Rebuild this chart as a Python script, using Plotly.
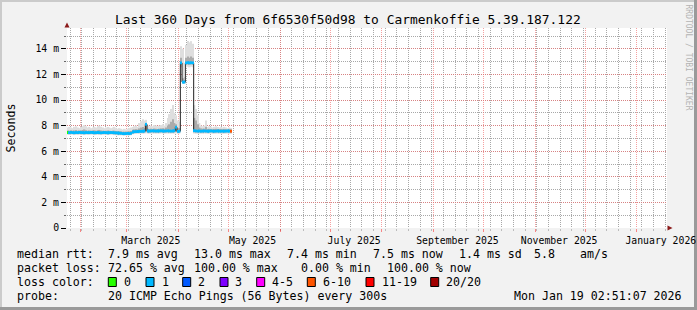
import plotly.graph_objects as go
import pandas as pd

# ---------------- data ----------------
RANGE_START = "2025-01-24 02:51:07"
RANGE_END = "2026-01-19 02:51:07"
SAMPLE_START = "2025-01-24 03:00"

median_ms = ([7.46, 7.45, 7.47, 7.45, 7.44, 7.46, 7.45, 7.47, 7.46, 7.45,
              7.44, 7.46, 7.45, 7.45, 7.47, 7.46, 7.44, 7.45, 7.46, 7.45,
              7.44, 7.45, 7.46, 7.45, 7.44, 7.45, 7.46, 7.45, 7.44, 7.43,
              7.42, 7.41, 7.40]
             + [7.38, 7.37, 7.38, 7.39, 7.38, 7.40]
             + [7.50, 7.52, 7.53, 7.54, 7.55, 7.55, 7.56]
             + [7.57] + [8.10]
             + [7.58, 7.57, 7.58, 7.59, 7.58, 7.57, 7.58, 7.58, 7.59, 7.58,
                7.57, 7.58, 7.59, 7.58, 7.57, 7.58, 7.60]
             + [7.87] + [7.55] + [7.56] + [12.9] + [11.4] + [11.4]
             + [12.9, 12.92, 12.9, 12.91, 12.9]
             + [7.60, 7.58, 7.57, 7.58, 7.56, 7.57, 7.58, 7.57, 7.56, 7.57,
                7.58, 7.57, 7.56, 7.57, 7.58, 7.57, 7.56, 7.57, 7.56, 7.57,
                7.58, 7.57, 7.56])

smoke_hi = ([7.85, 7.9, 7.85, 7.8, 7.9, 7.95, 7.85, 7.8, 7.9, 7.95,
             8.05, 7.95, 7.85, 7.9, 7.8, 7.85, 7.9, 7.85, 7.95, 8.0,
             7.9, 7.85, 7.8, 7.85, 7.9, 7.85, 7.8, 7.85, 7.9, 7.8,
             7.75, 7.8, 7.75]
            + [7.7, 7.75, 7.7, 7.75, 7.8, 7.85]
            + [7.9, 7.95, 8.0, 7.9, 8.2, 8.35, 8.5]
            + [8.4] + [8.45]
            + [8.0, 7.95, 8.0, 7.95, 8.05, 8.0, 7.95, 8.0, 8.05, 8.1,
               8.0, 8.2, 8.6, 8.9, 9.3, 9.6, 9.0]
            + [8.8] + [8.4] + [8.3] + [14.2] + [14.0] + [11.8]
            + [14.3, 14.6, 14.5, 14.6, 14.4]
            + [9.6, 9.3, 8.8, 8.2, 8.0, 7.95, 8.0, 8.4, 7.9, 7.95,
               7.9, 7.85, 7.9, 7.95, 7.9, 7.85, 7.9, 7.85, 7.9, 7.85,
               7.8, 7.85, 7.8])

smoke_lo = ([7.28, 7.27, 7.29, 7.28, 7.26, 7.28, 7.27, 7.29, 7.28, 7.27,
             7.26, 7.28, 7.27, 7.28, 7.29, 7.28, 7.26, 7.27, 7.28, 7.27,
             7.26, 7.27, 7.28, 7.27, 7.26, 7.27, 7.28, 7.27, 7.26, 7.25,
             7.25, 7.24, 7.24]
            + [7.22, 7.22, 7.23, 7.23, 7.22, 7.25]
            + [7.32, 7.34, 7.35, 7.36, 7.36, 7.37, 7.37]
            + [7.38] + [7.40]
            + [7.38, 7.37, 7.38, 7.39, 7.38, 7.37, 7.38, 7.38, 7.39, 7.38,
               7.37, 7.38, 7.39, 7.38, 7.37, 7.38, 7.38]
            + [7.40] + [7.36] + [7.37] + [12.55] + [11.25] + [11.25]
            + [12.55, 12.6, 12.55, 12.6, 12.55]
            + [7.38, 7.37, 7.36, 7.37, 7.36, 7.37, 7.38, 7.37, 7.36, 7.37,
               7.38, 7.37, 7.36, 7.37, 7.38, 7.37, 7.36, 7.37, 7.36, 7.37,
               7.38, 7.37, 7.36])

core_hi = ([7.62, 7.6, 7.63, 7.6, 7.62, 7.65, 7.6, 7.62, 7.63, 7.65,
            7.7, 7.64, 7.6, 7.62, 7.6, 7.61, 7.63, 7.6, 7.64, 7.66,
            7.62, 7.6, 7.59, 7.6, 7.62, 7.6, 7.58, 7.6, 7.6, 7.58,
            7.56, 7.56, 7.55]
           + [7.52, 7.52, 7.53, 7.54, 7.55, 7.58]
           + [7.68, 7.7, 7.72, 7.7, 7.78, 7.85, 7.9]
           + [7.8] + [8.2]
           + [7.75, 7.74, 7.76, 7.74, 7.77, 7.75, 7.74, 7.76, 7.78, 7.8,
              7.76, 7.85, 8.0, 8.1, 8.3, 8.5, 8.2]
           + [8.1] + [7.8] + [7.8] + [13.3] + [11.7] + [11.55]
           + [13.3, 13.4, 13.3, 13.4, 13.3]
           + [8.6, 8.4, 8.1, 7.85, 7.78, 7.75, 7.76, 7.9, 7.74, 7.75,
              7.74, 7.72, 7.74, 7.75, 7.74, 7.72, 7.74, 7.72, 7.74, 7.72,
              7.7, 7.72, 7.7])

core_lo = ([7.35, 7.34, 7.36, 7.35, 7.34, 7.35, 7.35, 7.36, 7.35, 7.34,
            7.33, 7.35, 7.34, 7.35, 7.36, 7.35, 7.33, 7.34, 7.35, 7.34,
            7.33, 7.34, 7.35, 7.34, 7.33, 7.34, 7.35, 7.34, 7.33, 7.32,
            7.31, 7.3, 7.3]
           + [7.28, 7.27, 7.28, 7.29, 7.28, 7.3]
           + [7.4, 7.42, 7.43, 7.44, 7.45, 7.45, 7.46]
           + [7.47] + [7.5]
           + [7.47, 7.46, 7.47, 7.48, 7.47, 7.46, 7.47, 7.47, 7.48, 7.47,
              7.46, 7.47, 7.48, 7.47, 7.46, 7.47, 7.48]
           + [7.5] + [7.45] + [7.46] + [12.75] + [11.32] + [11.32]
           + [12.75, 12.78, 12.76, 12.78, 12.75]
           + [7.48, 7.47, 7.46, 7.47, 7.46, 7.47, 7.48, 7.47, 7.46, 7.47,
              7.48, 7.47, 7.46, 7.47, 7.48, 7.47, 7.46, 7.47, 7.46, 7.47,
              7.48, 7.47, 7.46])

loss_count = [0] + [1] * 97 + [7]

month_ticks = ["2025-02-01", "2025-03-01", "2025-04-01", "2025-05-01", "2025-06-01",
               "2025-07-01", "2025-08-01", "2025-09-01", "2025-10-01", "2025-11-01",
               "2025-12-01", "2026-01-01"]
month_labels = ["", "March 2025", "", "May 2025", "", "July 2025", "",
                "September 2025", "", "November 2025", "", "January 2026"]

y_ticks = [0, 2, 4, 6, 8, 10, 12, 14]
y_labels = ["0", "2 m", "4 m", "6 m", "8 m", "10 m", "12 m", "14 m"]
Y_MAX = 15.625

loss_legend = ["0", "1", "2", "3", "4-5", "6-10", "11-19", "20/20"]
loss_legend_colors = ["#26ff00", "#00b8ff", "#0059ff", "#7e00ff", "#ff00ff",
                      "#ff5500", "#ff0000", "#a10000"]

legend_rows = [
    [("median rtt:", 16), ("7.9 ms avg", 107.3), ("13.0 ms max", 193.3),
     ("7.4 ms min", 286.3), ("7.5 ms now", 372.3), ("1.4 ms sd", 458.3),
     ("5.8", 533.3), ("am/s", 579.3)],
    [("packet loss:", 16), ("72.65 % avg", 107.3), ("100.00 % max", 193.3),
     ("0.00 % min", 300), ("100.00 % now", 386)],
    [("loss color:", 16)],
    [("probe:", 16), ("20 ICMP Echo Pings (56 Bytes) every 300s", 107.3),
     ("Mon Jan 19 02:51:07 2026", 512.7)],
]
TITLE = "Last 360 Days from 6f6530f50d98 to Carmenkoffie 5.39.187.122"

# ---------------- layout geometry (px) ----------------
W, H = 697, 310
PL, PR, PT, PB = 67, 667, 28, 228
MONO = "DejaVu Sans Mono"


def xp(px):
    return (px - PL) / (PR - PL)


def yp(py):
    return (PB - py) / (PB - PT)


def loss_color(n):
    if n == 0:
        return loss_legend_colors[0]
    if n == 1:
        return loss_legend_colors[1]
    if n == 2:
        return loss_legend_colors[2]
    if n == 3:
        return loss_legend_colors[3]
    if n <= 5:
        return loss_legend_colors[4]
    if n <= 10:
        return loss_legend_colors[5]
    if n <= 19:
        return loss_legend_colors[6]
    return loss_legend_colors[7]


dates = pd.date_range(SAMPLE_START, periods=len(median_ms), freq="D")
DAY_MS = 86400000
BAND = 0.11  # half thickness of the coloured median band (style)

fig = go.Figure()
fig.add_trace(go.Bar(x=dates, y=[h - l for h, l in zip(smoke_hi, smoke_lo)], base=smoke_lo,
                     width=DAY_MS, offset=0, marker=dict(color="#dedede", line=dict(width=0)),
                     hoverinfo="skip", showlegend=False, zorder=0))
fig.add_trace(go.Bar(x=dates, y=[h - l for h, l in zip(core_hi, core_lo)], base=core_lo,
                     width=DAY_MS, offset=0, marker=dict(color="#ababab", line=dict(width=0)),
                     hoverinfo="skip", showlegend=False, zorder=1))
fig.add_trace(go.Scatter(x=dates, y=median_ms, mode="lines",
                         line=dict(color="#202020", width=1, shape="hv"),
                         hoverinfo="skip", showlegend=False, zorder=2))
fig.add_trace(go.Bar(x=dates, y=[2 * BAND] * len(median_ms), base=[m - BAND for m in median_ms],
                     width=DAY_MS, offset=0,
                     marker=dict(color=[loss_color(n) for n in loss_count], line=dict(width=0)),
                     hoverinfo="skip", showlegend=False, zorder=3))

grid_dash = "1px,1px"
MAJOR_GRID = "rgba(240,110,110,0.65)"
MINOR_GRID = "#a8a8a8"
fig.update_layout(
    width=W, height=H,
    margin=dict(l=PL, r=W - PR, t=PT, b=H - PB, autoexpand=False),
    paper_bgcolor="#f2f2f2", plot_bgcolor="#ffffff",
    barmode="overlay", showlegend=False,
    font=dict(family=MONO, color="#000000", size=10),
    xaxis=dict(
        type="date", range=[RANGE_START, RANGE_END], automargin=False,
        tickvals=month_ticks, ticktext=month_labels, ticklabelshift=24,
        ticklabelstandoff=0,
        tickfont=dict(family=MONO, size=9.8, color="#000000"),
        showgrid=True, gridcolor=MAJOR_GRID, griddash=grid_dash, gridwidth=1,
        ticks="outside", ticklen=3, tickcolor="rgba(255,0,0,0.45)",
        showline=True, linecolor="#000000", linewidth=1, zeroline=False,
        minor=dict(dtick=7 * DAY_MS, tick0="2025-01-26", showgrid=True,
                   gridcolor=MINOR_GRID, griddash=grid_dash, gridwidth=1,
                   ticks="outside", ticklen=2, tickcolor="#bbbbbb"),
        fixedrange=True,
    ),
    yaxis=dict(
        range=[0, Y_MAX], tickvals=y_ticks, ticktext=y_labels, automargin=False,
        tickfont=dict(family=MONO, size=9.8, color="#000000"),
        showgrid=True, gridcolor=MAJOR_GRID, griddash=grid_dash, gridwidth=1,
        ticks="outside", ticklen=5, tickcolor="#000000",
        showline=True, linecolor="#000000", linewidth=1, zeroline=False,
        minor=dict(dtick=1, showgrid=True, gridcolor=MINOR_GRID, griddash=grid_dash,
                   gridwidth=1, ticks="outside", ticklen=2, tickcolor="#666666"),
        fixedrange=True,
    ),
)

ann = []
ann.append(dict(text=TITLE, x=xp(347.8), y=yp(19), xref="paper", yref="paper",
                xanchor="center", yanchor="middle", showarrow=False,
                font=dict(family=MONO, size=12.9, color="#000000")))
ann.append(dict(text="Seconds", x=xp(10.5), y=yp(128), xref="paper", yref="paper",
                xanchor="center", yanchor="middle", textangle=-90, showarrow=False,
                font=dict(family=MONO, size=11.6, color="#000000")))
ann.append(dict(text="RRDTOOL / TOBI OETIKER", x=xp(688), y=yp(57.5), xref="paper", yref="paper",
                xanchor="center", yanchor="middle", textangle=90, showarrow=False,
                font=dict(family=MONO, size=8, color="#b4b4b4")))

row_y = [254.3, 268.3, 282.3, 296.0]
for row, ypx in zip(legend_rows, row_y):
    for txt, xpx in row:
        ann.append(dict(text=txt.replace(" ", "&nbsp;"), x=xp(xpx), y=yp(ypx), xref="paper", yref="paper",
                        xanchor="left", yanchor="middle", showarrow=False, borderpad=0,
                        font=dict(family=MONO, size=11.6, color="#000000")))

box_x = [108.3, 146, 182.7, 220, 256.7, 307.3, 366, 430.7]
label_x = [123.3, 161, 197.3, 234.3, 270.7, 321.7, 380.7, 445.3]
shapes = []
for lab, col, bx, lx in zip(loss_legend, loss_legend_colors, box_x, label_x):
    shapes.append(dict(type="rect", xref="paper", yref="paper",
                       x0=xp(bx), x1=xp(bx + 8), y0=yp(286.5), y1=yp(277.5),
                       fillcolor=col, line=dict(color="#000000", width=1), layer="above"))
    ann.append(dict(text=lab, x=xp(lx), y=yp(row_y[2]), xref="paper", yref="paper",
                    xanchor="left", yanchor="middle", showarrow=False, borderpad=0,
                    font=dict(family=MONO, size=11.6, color="#000000")))

# arrows at axis ends
shapes.append(dict(type="path", xref="paper", yref="paper",
                   path=f"M {xp(64.5)},{yp(27.5)} L {xp(69.5)},{yp(27.5)} L {xp(67)},{yp(22.5)} Z",
                   fillcolor="#8b1a1a", line=dict(width=0), layer="above"))
shapes.append(dict(type="path", xref="paper", yref="paper",
                   path=f"M {xp(667.5)},{yp(225.5)} L {xp(667.5)},{yp(230.5)} L {xp(672.5)},{yp(228)} Z",
                   fillcolor="#8b1a1a", line=dict(width=0), layer="above"))
# canvas shading borders
shapes.append(dict(type="rect", xref="paper", yref="paper", x0=xp(0), x1=xp(W), y0=yp(0), y1=yp(2),
                   fillcolor="#cbcbcb", line=dict(width=0), layer="below"))
shapes.append(dict(type="rect", xref="paper", yref="paper", x0=xp(0), x1=xp(2), y0=yp(0), y1=yp(H),
                   fillcolor="#cbcbcb", line=dict(width=0), layer="below"))
shapes.append(dict(type="rect", xref="paper", yref="paper", x0=xp(W - 3), x1=xp(W), y0=yp(0), y1=yp(H),
                   fillcolor="#9a9a9a", line=dict(width=0), layer="below"))
shapes.append(dict(type="rect", xref="paper", yref="paper", x0=xp(0), x1=xp(W), y0=yp(H - 3), y1=yp(H),
                   fillcolor="#9a9a9a", line=dict(width=0), layer="below"))

fig.update_layout(annotations=ann, shapes=shapes)
fig.write_html("out.html", config={"displayModeBar": False})
